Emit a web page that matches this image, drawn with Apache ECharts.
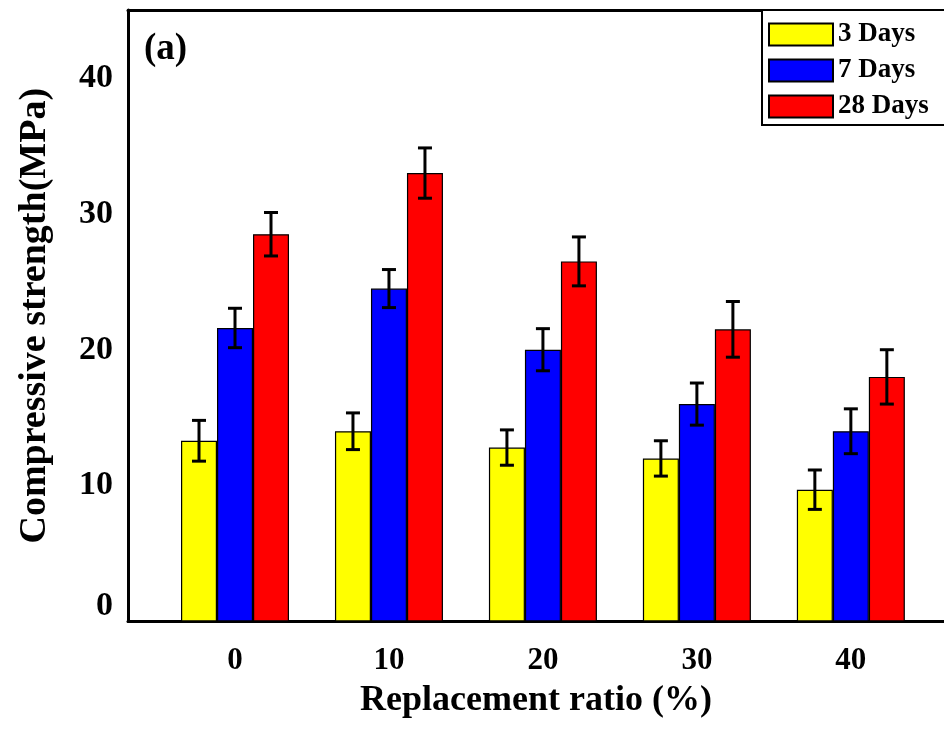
<!DOCTYPE html>
<html><head><meta charset="utf-8">
<script src="https://cdn.jsdelivr.net/npm/echarts@6/dist/echarts.min.js"></script>
<style>html,body{margin:0;padding:0;background:#fff}#c{width:944px;height:738px}</style>
</head><body><div id="c"></div>
<script>
const ratios = [0, 10, 20, 30, 40];
const seriesNames = ['3 Days', '7 Days', '28 Days'];
const days3 = [13.3, 14.0, 12.8, 12.0, 9.7];
const days7 = [21.6, 24.5, 20.0, 16.0, 14.0];
const days28 = [28.5, 33.0, 26.5, 21.5, 18.0];
const err3 = [1.5, 1.35, 1.3, 1.3, 1.45];
const err7 = [1.45, 1.4, 1.55, 1.55, 1.65];
const err28 = [1.6, 1.85, 1.8, 2.05, 2.0];
const yTicks = [0, 10, 20, 30, 40];

const colors = ['#ffff00', '#0000ff', '#ff0000'];
const values = [days3, days7, days28];
const errs = [err3, err7, err28];
const FONT = '"Liberation Serif","Times New Roman",serif';
const BAR_W = 36;

const chart = echarts.init(document.getElementById('c'));
const series = [];
values.forEach((vals, i) => {
  series.push({
    name: seriesNames[i], type: 'bar', xAxisIndex: 0, yAxisIndex: 0,
    barWidth: BAR_W, barGap: '0%',
    itemStyle: { color: colors[i], borderColor: '#000', borderWidth: 1.2 },
    data: ratios.map((r, k) => [r, vals[k]]),
    z: 2
  });
});
values.forEach((vals, i) => {
  const off = (i - 1) * BAR_W;
  series.push({
    type: 'custom', xAxisIndex: 0, yAxisIndex: 0, z: 5, silent: true,
    data: ratios.map((r, k) => [r, vals[k], errs[i][k]]),
    renderItem: function (params, api) {
      const x = api.value(0), v = api.value(1), e = api.value(2);
      const top = api.coord([x, v + e]);
      const bot = api.coord([x, v - e]);
      const cx = top[0] + off;
      const cap = 7;
      const st = { stroke: '#000', lineWidth: 3 };
      return { type: 'group', children: [
        { type: 'line', shape: { x1: cx, y1: top[1], x2: cx, y2: bot[1] }, style: st },
        { type: 'line', shape: { x1: cx - cap, y1: top[1], x2: cx + cap, y2: top[1] }, style: st },
        { type: 'line', shape: { x1: cx - cap, y1: bot[1], x2: cx + cap, y2: bot[1] }, style: st }
      ]};
    }
  });
});

const xMin = -6.95, xMax = 46.05;
chart.setOption({
  animation: false,
  backgroundColor: '#fff',
  title: { text: '(a)', left: 144, top: 31, padding: 0, textStyle: { fontFamily: FONT, fontWeight: 'bold', fontSize: 37, color: '#000' } },
  legend: {
    orient: 'vertical', left: 762, top: 10, data: seriesNames,
    itemWidth: 64, itemHeight: 22, itemGap: 9, padding: [11, 30, 5, 6],
    backgroundColor: '#fff', borderColor: '#000', borderWidth: 2,
    textStyle: { fontFamily: FONT, fontWeight: 'bold', fontSize: 27, color: '#000', padding: [0, 0, 0, 0] },
    icon: 'rect'
  },
  grid: { left: 128, right: 0, top: 10, bottom: 116.5 },
  xAxis: [{
    type: 'value', min: xMin, max: xMax, position: 'bottom',
    axisLine: { show: true, onZero: false, lineStyle: { color: '#000', width: 3 } },
    axisTick: { show: false },
    splitLine: { show: false },
    axisLabel: { customValues: ratios, margin: 24, fontFamily: FONT, fontWeight: 'bold', fontSize: 31, color: '#000' },
    name: 'Replacement ratio (%)', nameLocation: 'middle', nameGap: 61,
    nameTextStyle: { fontFamily: FONT, fontWeight: 'bold', fontSize: 36, color: '#000' }
  }, {
    type: 'value', min: xMin, max: xMax, position: 'top',
    axisLine: { show: true, onZero: false, lineStyle: { color: '#000', width: 3 } },
    axisTick: { show: false }, axisLabel: { show: false }, splitLine: { show: false }
  }],
  yAxis: [{
    type: 'value', min: 0, max: 45,
    axisLine: { show: true, onZero: false, lineStyle: { color: '#000', width: 3 } },
    axisTick: { show: false },
    splitLine: { show: false },
    axisLabel: {
      customValues: yTicks, margin: 15, fontFamily: FONT, fontWeight: 'bold', fontSize: 34, color: '#000',
      formatter: v => v === 0 ? '{z|0}' : String(v),
      rich: { z: { fontFamily: FONT, fontWeight: 'bold', fontSize: 34, color: '#000', padding: [0, 0, 30, 0] } }
    },
    name: 'Compressive strength(MPa)', nameLocation: 'middle', nameGap: 74,
    nameTextStyle: { fontFamily: FONT, fontWeight: 'bold', fontSize: 38, color: '#000' }
  }],
  series: series
});
</script></body></html>
